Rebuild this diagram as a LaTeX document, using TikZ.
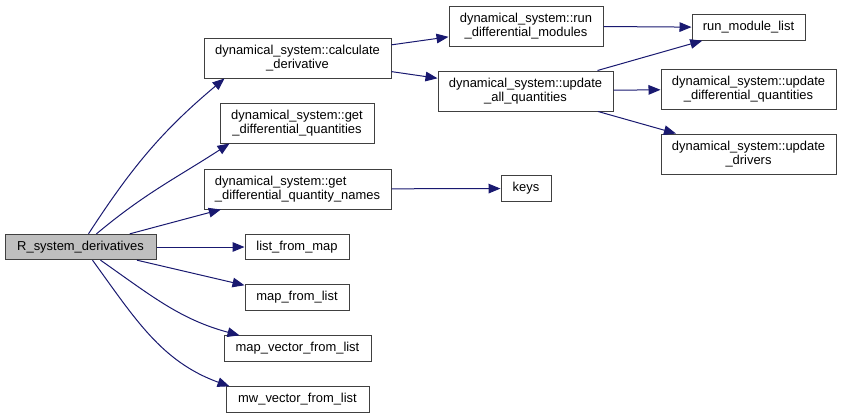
\documentclass[tikz,border=0pt]{standalone}
\usepackage{fontspec}
\setmainfont{Liberation Sans}
\usetikzlibrary{arrows.meta,calc}
\definecolor{callcol}{RGB}{25,25,112}
\definecolor{rootcol}{RGB}{191,191,191}
\definecolor{framecol}{RGB}{64,64,64}

\begin{document}
\begin{tikzpicture}[
  x=0.75pt, y=0.75pt,
  >={Triangle[length=9pt,width=7.2pt]},
  fn/.style={draw=framecol, line width=0.75pt, fill=white, align=center,
             inner sep=0pt, font=\fontsize{9.7pt}{10.5pt}\selectfont},
  fn1/.style={fn, minimum height=19pt},
  fn2/.style={fn, minimum height=30pt},
  root/.style={fn1, fill=rootcol},
  call/.style={->, callcol, line width=0.75pt}
]
\useasboundingbox (0,0) rectangle (841,-418);

% caller
\node[root, minimum width=113.25pt] (rsd) at (80.5,-247) {R\_system\_derivatives};

% direct callees
\node[fn2, minimum width=140.25pt] (calc) at (297.5,-58) {dynamical\_system::calculate\\\_derivative};
\node[fn2, minimum width=115.5pt] (getdq) at (297,-123) {dynamical\_system::get\\\_differential\_quantities};
\node[fn2, minimum width=140.25pt, align=left] (getdqn) at (297.5,-189) {dynamical\_system::get\\\_differential\_quantity\_names};
\node[fn1, minimum width=78pt] (lfm) at (297,-247) {list\_from\_map};
\node[fn1, minimum width=78pt] (mfl) at (297,-297.5) {map\_from\_list};
\node[fn1, minimum width=110.25pt] (mvfl) at (297.5,-348.5) {map\_vector\_from\_list};
\node[fn1, minimum width=107.25pt] (mwvfl) at (297.5,-399.5) {mw\_vector\_from\_list};

% second level
\node[fn2, minimum width=115.5pt] (rundm) at (526,-26) {dynamical\_system::run\\\_differential\_modules};
\node[fn2, minimum width=131.25pt] (updall) at (525.5,-91) {dynamical\_system::update\\\_all\_quantities};
\node[fn1, minimum width=37.5pt] (keys) at (526,-188.5) {keys};

% third level
\node[fn1, minimum width=84.75pt] (rml) at (748.5,-27.5) {run\_module\_list};
\node[fn2, minimum width=131.25pt] (upddq) at (748.5,-89) {dynamical\_system::update\\\_differential\_quantities};
\node[fn2, minimum width=131.25pt] (upddrv) at (748.5,-154) {dynamical\_system::update\\\_drivers};

\draw[call] ($(rsd.north)+(8,0)$) to[out=57, in=-140] ($(calc.south west)+(21,0)$);
\draw[call] ($(rsd.north)+(16,0)$) to[out=40, in=-147] ($(getdq.south west)+(10,0)$);
\draw[call] (rsd) -- (getdqn);
\draw[call] (rsd) -- (lfm);
\draw[call] (rsd) -- (mfl);
\draw[call] ($(rsd.south)+(20,0)$) to[out=-35, in=165] ($(mvfl.north west)+(16,0)$);
\draw[call] ($(rsd.south)+(12,0)$) to[out=-54, in=160] ($(mwvfl.north west)+(4,0)$);
\draw[call] (calc) -- (rundm);
\draw[call] (calc) -- (updall);
\draw[call] (getdqn) -- (keys);
\draw[call] (rundm) -- (rml);
\draw[call] (updall) -- (rml);
\draw[call] (updall) -- (upddq);
\draw[call] (updall) -- (upddrv);
\end{tikzpicture}
\end{document}
